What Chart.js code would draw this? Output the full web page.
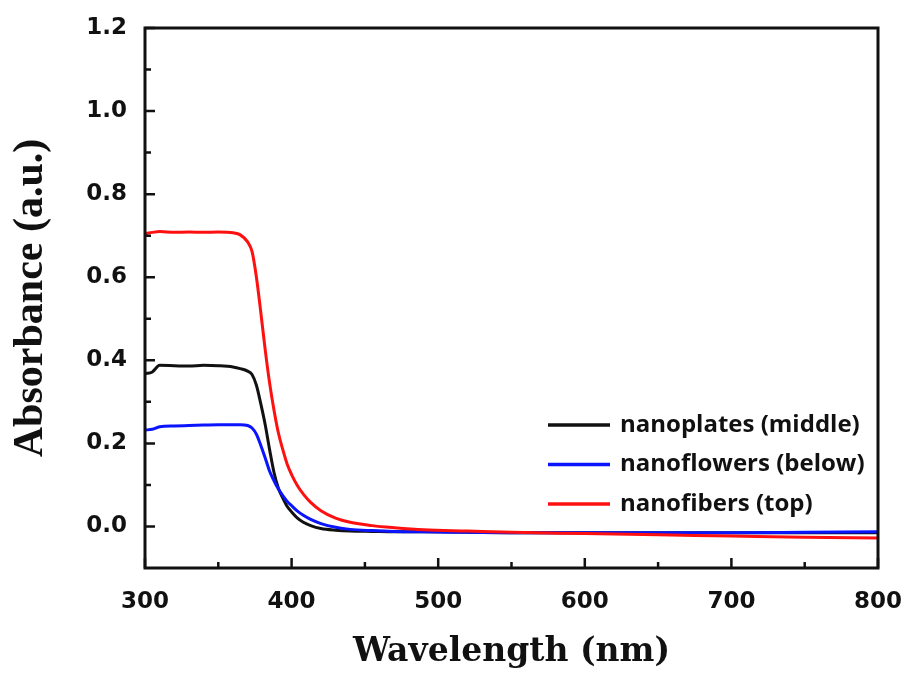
<!DOCTYPE html>
<html>
<head>
<meta charset="utf-8">
<title>Absorbance spectra</title>
<script src="https://cdn.jsdelivr.net/npm/chart.js@4.4.1/dist/chart.umd.min.js"></script>
<style>
  html, body { margin: 0; padding: 0; background: #fff; }
  #wrap { width: 907px; height: 679px; }
</style>
</head>
<body>
<div id="wrap"><canvas id="absChart" width="907" height="679"></canvas></div>
<script>
// ------------------ Data ------------------
const wavelengths = [300, 305, 310, 320, 330, 340, 350, 360, 365, 370, 373, 376, 379, 382, 385, 388, 391, 394, 397, 400,
  404, 408, 413, 420, 430, 440, 455, 470, 490, 520, 550, 600, 650, 700, 750, 800];
const nanoplates = [0.368, 0.372, 0.388, 0.387, 0.386, 0.388, 0.387, 0.384, 0.380, 0.374, 0.366, 0.340, 0.295, 0.245, 0.185, 0.130, 0.092, 0.068, 0.048, 0.035,
  0.020, 0.010, 0.002, -0.005, -0.009, -0.011, -0.012, -0.013, -0.013, -0.014, -0.015, -0.015, -0.015, -0.015, -0.015, -0.015];
const nanoflowers = [0.232, 0.234, 0.240, 0.242, 0.243, 0.244, 0.245, 0.245, 0.245, 0.243, 0.237, 0.222, 0.195, 0.165, 0.133, 0.110, 0.090, 0.074, 0.060, 0.050,
  0.037, 0.027, 0.017, 0.007, -0.002, -0.007, -0.010, -0.012, -0.013, -0.014, -0.015, -0.015, -0.015, -0.015, -0.014, -0.013];
const nanofibers = [0.705, 0.708, 0.710, 0.708, 0.709, 0.708, 0.709, 0.707, 0.702, 0.685, 0.662, 0.600, 0.515, 0.425, 0.345, 0.280, 0.225, 0.185, 0.150, 0.125,
  0.098, 0.078, 0.058, 0.038, 0.020, 0.010, 0.002, -0.003, -0.008, -0.011, -0.014, -0.017, -0.020, -0.023, -0.026, -0.028];
const seriesNames = ["nanoplates (middle)", "nanoflowers (below)", "nanofibers (top)"];
const seriesColors = ["#111111", "#0a14ff", "#ff1010"];

const xTicks = [300, 400, 500, 600, 700, 800];
const xMinorTicks = [350, 450, 550, 650, 750];
const yTicks = [0.0, 0.2, 0.4, 0.6, 0.8, 1.0, 1.2];
const yMinorTicks = [0.1, 0.3, 0.5, 0.7, 0.9, 1.1];

function toPoints(values) {
  return wavelengths.map((w, i) => ({ x: w, y: values[i] }));
}

// ------------------ Frame with inward ticks ------------------
const frameTicks = {
  id: "frameTicks",
  afterDatasetsDraw(chart) {
    const { ctx, chartArea: a, scales: { x, y } } = chart;
    ctx.save();
    ctx.strokeStyle = "#111";
    ctx.lineWidth = 2.5;
    ctx.beginPath();
    xTicks.forEach(v => {
      const px = x.getPixelForValue(v);
      ctx.moveTo(px, a.bottom); ctx.lineTo(px, a.bottom - 10);
    });
    xMinorTicks.forEach(v => {
      const px = x.getPixelForValue(v);
      ctx.moveTo(px, a.bottom); ctx.lineTo(px, a.bottom - 6);
    });
    yTicks.forEach(v => {
      const py = y.getPixelForValue(v);
      ctx.moveTo(a.left, py); ctx.lineTo(a.left + 10, py);
    });
    yMinorTicks.forEach(v => {
      const py = y.getPixelForValue(v);
      ctx.moveTo(a.left, py); ctx.lineTo(a.left + 6, py);
    });
    ctx.stroke();
    ctx.lineWidth = 3;
    ctx.strokeRect(a.left, a.top, a.right - a.left, a.bottom - a.top);
    ctx.restore();
  }
};

// ------------------ Legend inside the plot ------------------
const insideLegend = {
  id: "insideLegend",
  afterDraw(chart) {
    const { ctx, chartArea: a } = chart;
    const x0 = a.right - 330;
    const y0 = a.bottom - 143;
    ctx.save();
    ctx.font = "bold 24px 'Open Sans'";
    ctx.textBaseline = "middle";
    chart.data.datasets.forEach((ds, i) => {
      const yy = y0 + i * 39.5;
      ctx.strokeStyle = ds.borderColor;
      ctx.lineWidth = 3.5;
      ctx.beginPath();
      ctx.moveTo(x0, yy);
      ctx.lineTo(x0 + 62, yy);
      ctx.stroke();
      ctx.fillStyle = "#111";
      ctx.fillText(ds.label, x0 + 72, yy);
    });
    ctx.restore();
  }
};

const tickFont = { family: "DejaVu Sans", weight: "bold", size: 23 };

new Chart(document.getElementById("absChart"), {
  type: "line",
  data: {
    datasets: [
      { label: seriesNames[0], data: toPoints(nanoplates), borderColor: seriesColors[0], order: 3 },
      { label: seriesNames[1], data: toPoints(nanoflowers), borderColor: seriesColors[1], order: 2 },
      { label: seriesNames[2], data: toPoints(nanofibers), borderColor: seriesColors[2], order: 1 }
    ]
  },
  options: {
    responsive: false,
    animation: false,
    layout: { padding: { top: 28, right: 29, left: 0, bottom: 0 } },
    elements: {
      point: { radius: 0 },
      line: { borderWidth: 3, cubicInterpolationMode: "monotone" }
    },
    plugins: { legend: { display: false }, tooltip: { enabled: false } },
    scales: {
      x: {
        type: "linear",
        min: 300,
        max: 800,
        afterBuildTicks: axis => { axis.ticks = xTicks.map(v => ({ value: v })); },
        afterFit: axis => { axis.height = 111; axis.paddingLeft = 0; axis.paddingRight = 0; },
        grid: { display: false },
        border: { display: false },
        ticks: { color: "#111", font: tickFont, padding: 12, autoSkip: false, maxRotation: 0, callback: v => String(v) },
        title: {
          display: true,
          text: "Wavelength (nm)",
          color: "#111",
          font: { family: "DejaVu Serif", weight: "bold", size: 33, lineHeight: 1.2 },
          padding: { top: 0, bottom: 7 }
        }
      },
      y: {
        min: -0.1,
        max: 1.2,
        afterBuildTicks: axis => { axis.ticks = yTicks.map(v => ({ value: v })); },
        afterFit: axis => { axis.width = 145; axis.paddingTop = 0; axis.paddingBottom = 0; },
        grid: { display: false },
        border: { display: false },
        ticks: { color: "#111", font: tickFont, padding: 10, callback: v => v.toFixed(1) },
        title: {
          display: true,
          text: "Absorbance (a.u.)",
          color: "#111",
          font: { family: "Liberation Serif", weight: "bold", size: 42, lineHeight: 1.2 },
          padding: { top: 6, bottom: 0 }
        }
      }
    }
  },
  plugins: [frameTicks, insideLegend]
});
</script>
</body>
</html>
